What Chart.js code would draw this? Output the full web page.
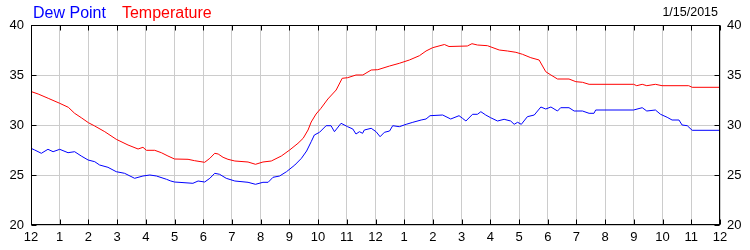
<!DOCTYPE html>
<html>
<head>
<meta charset="utf-8">
<script src="https://cdn.jsdelivr.net/npm/chart.js@4/dist/chart.umd.min.js"></script>
<style>
  body { margin: 0; background: #fff; }
  #wrap { position: relative; width: 750px; height: 250px; }
  #legend { position: absolute; left: 33px; top: 5px; font: 16px 'Liberation Sans', Arial, sans-serif; line-height: 16px; white-space: nowrap; }
  #date { position: absolute; right: 32px; top: 6px; font: 12.5px 'Liberation Sans', Arial, sans-serif; line-height: 13px; color: #000; }
  canvas { position: absolute; left: 0; top: 0; }
</style>
</head>
<body>
<div id="wrap">
  <canvas id="chart" width="750" height="250"></canvas>
  <div id="legend"><span style="color:#0000ff">Dew Point</span><span style="color:#ff0000;margin-left:16px">Temperature</span></div>
  <div id="date">1/15/2015</div>
</div>
<script>
const hourLabels = ['12','1','2','3','4','5','6','7','8','9','10','11',
                    '12','1','2','3','4','5','6','7','8','9','10','11','12'];

const tempHours = [0, 0.25, 0.6, 1.0, 1.3, 1.52, 1.75, 2.0, 2.22, 2.57, 2.97, 3.38, 3.73, 3.9, 4.02, 4.31, 4.54, 4.77,
  5.0, 5.47, 5.7, 6.05, 6.23, 6.4, 6.52, 6.69, 6.86, 7.1, 7.56, 7.82, 8.08, 8.37, 8.72, 9.01, 9.3, 9.48, 9.65, 9.76,
  9.93, 10.1, 10.34, 10.63, 10.84, 11.03, 11.32, 11.56, 11.85, 12.08, 12.49, 12.83, 13.18, 13.53, 13.76, 13.99,
  14.4, 14.56, 15.2, 15.36, 15.55, 15.9, 16.31, 16.6, 16.89, 17.12, 17.41, 17.7, 17.93, 18.11, 18.34, 18.74, 18.98,
  19.21, 19.44, 20.99, 21.1, 21.29, 21.45, 21.75, 21.98, 22.91, 23.03, 24.0];
const tempValues = [33.35, 33.1, 32.67, 32.17, 31.77, 31.17, 30.73, 30.23, 29.9, 29.33, 28.57, 28.0, 27.6, 27.77, 27.47, 27.47, 27.23, 26.9,
  26.6, 26.57, 26.43, 26.27, 26.67, 27.17, 27.1, 26.77, 26.57, 26.4, 26.3, 26.07, 26.3, 26.4, 26.9, 27.5, 28.17, 28.67, 29.5, 30.3,
  31.1, 31.67, 32.6, 33.5, 34.67, 34.73, 35.0, 35.0, 35.5, 35.53, 35.9, 36.17, 36.5, 36.93, 37.4, 37.73,
  38.05, 37.85, 37.9, 38.13, 38.0, 37.93, 37.5, 37.4, 37.27, 37.07, 36.73, 36.5, 35.33, 35.0, 34.6, 34.6, 34.33,
  34.27, 34.07, 34.07, 33.93, 34.07, 33.93, 34.07, 33.93, 33.93, 33.77, 33.77];

const dewHours = [0, 0.13, 0.36, 0.59, 0.77, 1.0, 1.29, 1.52, 1.75, 1.99, 2.22, 2.39, 2.68, 2.97, 3.26, 3.61, 3.9, 4.14,
  4.37, 4.72, 4.87, 5.0, 5.64, 5.82, 6.05, 6.23, 6.4, 6.57, 6.8, 7.1, 7.56, 7.82, 8.08, 8.26, 8.43, 8.66, 8.9, 9.19,
  9.42, 9.6, 9.76, 9.87, 10.05, 10.28, 10.45, 10.57, 10.8, 11.03, 11.21, 11.32, 11.44, 11.55, 11.61, 11.85, 12.02,
  12.16, 12.31, 12.49, 12.6, 12.83, 13.07, 13.3, 13.59, 13.76, 13.9, 14.34, 14.62, 14.91, 15.03, 15.15, 15.38, 15.55,
  15.67, 15.84, 16.01, 16.25, 16.48, 16.71, 16.83, 16.95, 17.08, 17.29, 17.53, 17.76, 17.93, 18.11, 18.34, 18.45,
  18.74, 18.92, 19.21, 19.44, 19.61, 19.67, 20.99, 21.29, 21.45, 21.75, 21.93, 22.16, 22.33, 22.57, 22.68, 22.86,
  23.03, 24.0];
const dewValues = [27.67, 27.5, 27.17, 27.57, 27.33, 27.57, 27.23, 27.33, 26.9, 26.5, 26.33, 26.0, 25.77, 25.33, 25.17, 24.67, 24.9, 25.0,
  24.9, 24.57, 24.4, 24.3, 24.17, 24.4, 24.3, 24.67, 25.17, 25.07, 24.67, 24.4, 24.27, 24.07, 24.27, 24.27, 24.77, 24.9, 25.33, 26.0,
  26.67, 27.4, 28.33, 29.0, 29.27, 29.93, 29.93, 29.33, 30.17, 29.83, 29.6, 29.1, 29.33, 29.17, 29.5, 29.67, 29.33,
  28.83, 29.27, 29.4, 29.93, 29.83, 30.07, 30.27, 30.5, 30.6, 30.93, 31.0, 30.6, 30.93, 30.67, 30.4, 31.07, 31.07,
  31.33, 31.0, 30.73, 30.4, 30.57, 30.4, 30.07, 30.27, 30.07, 30.83, 31.0, 31.8, 31.6, 31.8, 31.4, 31.73,
  31.73, 31.4, 31.4, 31.17, 31.17, 31.5, 31.5, 31.73, 31.4, 31.5, 31.07, 30.77, 30.5, 30.5, 30.0, 29.93,
  29.47, 29.47];

const tickFont = { family: "'Liberation Sans', Arial, sans-serif", size: 13 };

// black box round the plot, with short ticks pointing inward
const framePlugin = {
  id: 'frame',
  afterDatasetsDraw(chart) {
    const { ctx, chartArea: a, scales } = chart;
    const l = Math.round(a.left) + 0.5, r = Math.round(a.right) - 0.5;
    const t = Math.round(a.top) + 0.5, b = Math.round(a.bottom) - 0.5;
    ctx.save();
    ctx.strokeStyle = '#000';
    ctx.lineWidth = 1;
    ctx.beginPath();
    scales.x.ticks.forEach(tk => {
      const px = Math.round(scales.x.getPixelForValue(tk.value)) + 0.5;
      ctx.moveTo(px, b); ctx.lineTo(px, b - 5);
      ctx.moveTo(px, t); ctx.lineTo(px, t + 5);
    });
    scales.y.ticks.forEach(tk => {
      const py = Math.round(scales.y.getPixelForValue(tk.value)) + 0.5;
      ctx.moveTo(l, py); ctx.lineTo(l + 5, py);
      ctx.moveTo(r, py); ctx.lineTo(r - 5, py);
    });
    ctx.stroke();
    ctx.strokeRect(l, t, r - l, b - t);
    ctx.restore();
  }
};

new Chart(document.getElementById('chart'), {
  type: 'line',
  data: {
    datasets: [
      {
        label: 'Dew Point',
        data: dewHours.map((h, i) => ({ x: h, y: dewValues[i] })),
        borderColor: '#0000ff',
        borderWidth: 1,
        pointRadius: 0,
        tension: 0
      },
      {
        label: 'Temperature',
        data: tempHours.map((h, i) => ({ x: h, y: tempValues[i] })),
        borderColor: '#ff0000',
        borderWidth: 1,
        pointRadius: 0,
        tension: 0
      }
    ]
  },
  options: {
    responsive: false,
    animation: false,
    devicePixelRatio: 1,
    layout: { padding: { top: 25, left: 0, right: 0, bottom: 0 } },
    plugins: { legend: { display: false }, tooltip: { enabled: false } },
    scales: {
      x: {
        type: 'linear',
        min: 0,
        max: 24,
        afterFit: s => { s.height = 25; },
        border: { display: false },
        grid: { color: '#cccccc', drawTicks: false },
        ticks: {
          stepSize: 1,
          padding: 5,
          color: '#000',
          font: tickFont,
          maxRotation: 0,
          autoSkip: false,
          callback: v => hourLabels[v]
        }
      },
      y: {
        position: 'left',
        min: 20,
        max: 40,
        afterFit: s => { s.width = 31; },
        border: { display: false },
        grid: { color: '#cccccc', drawTicks: false },
        ticks: { stepSize: 5, padding: 7, color: '#000', font: tickFont }
      },
      y2: {
        position: 'right',
        min: 20,
        max: 40,
        afterFit: s => { s.width = 30; },
        border: { display: false },
        grid: { display: false, drawTicks: false },
        ticks: { stepSize: 5, padding: 7, color: '#000', font: tickFont }
      }
    }
  },
  plugins: [framePlugin]
});
</script>
</body>
</html>
